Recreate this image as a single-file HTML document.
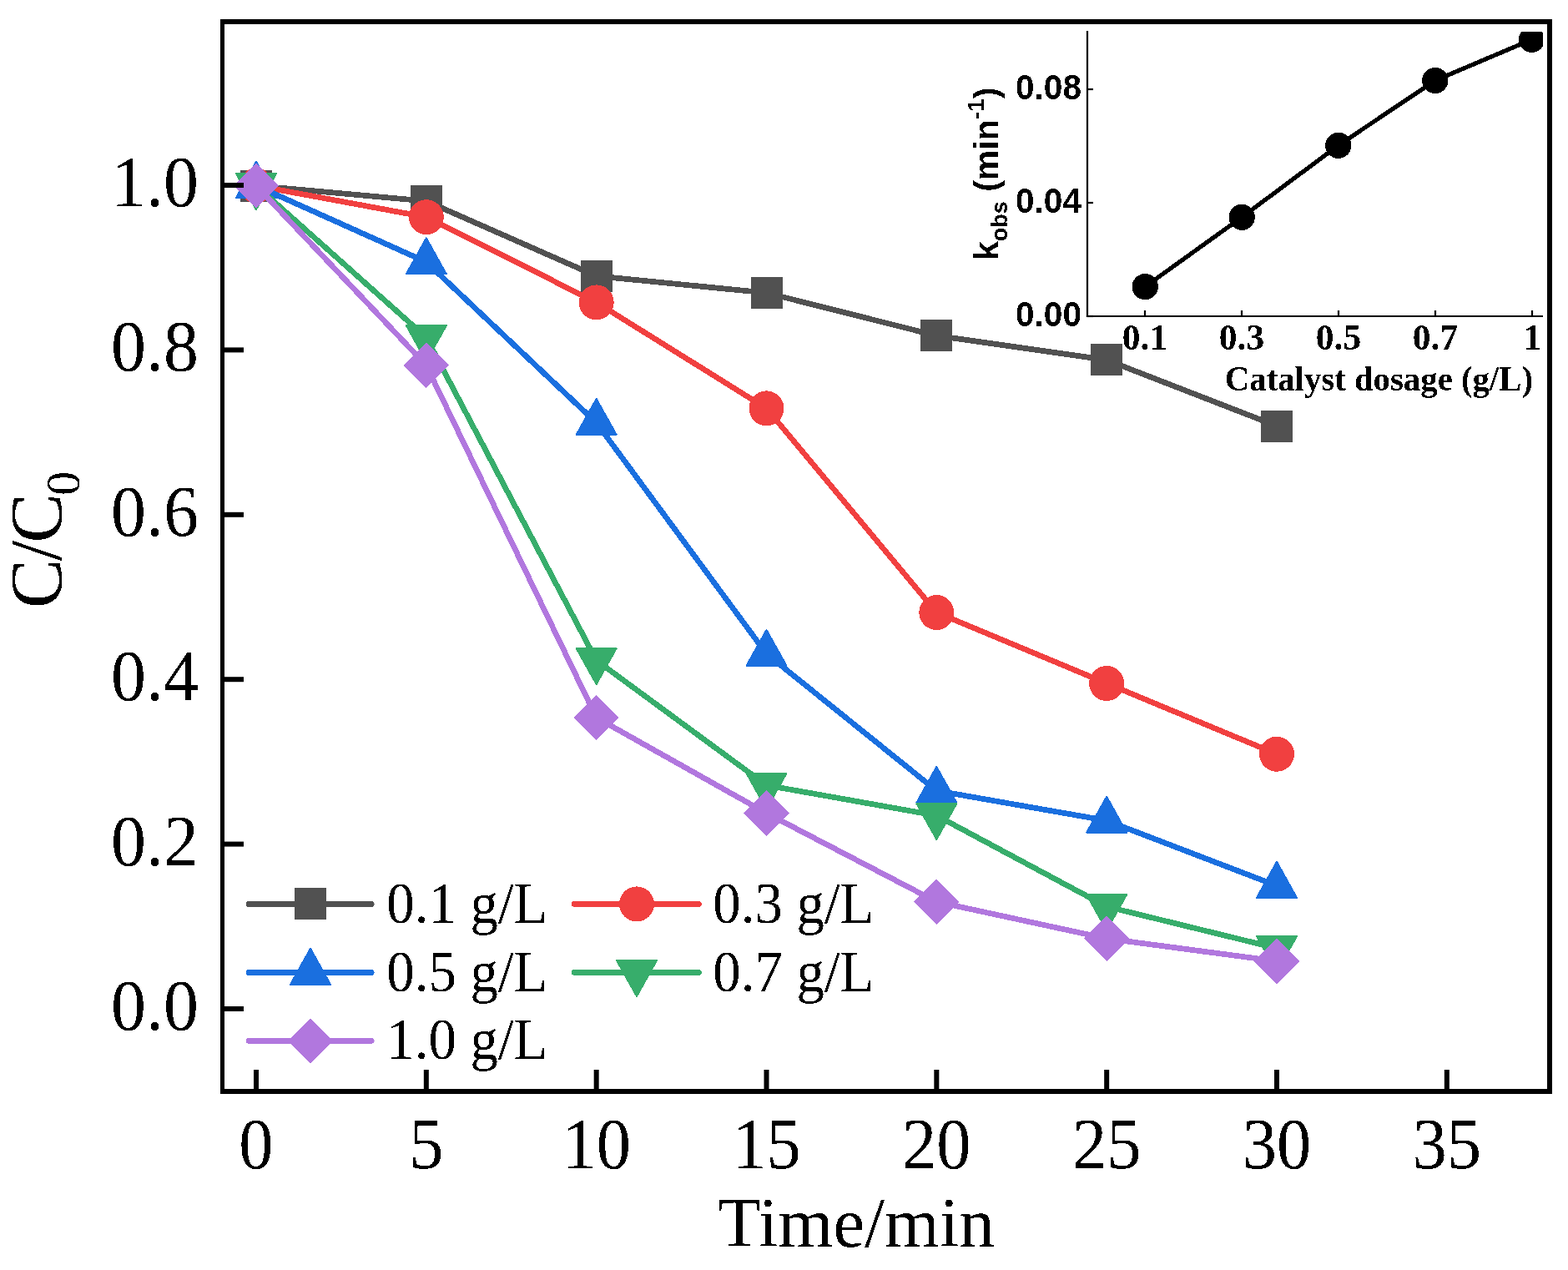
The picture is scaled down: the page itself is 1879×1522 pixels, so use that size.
<!DOCTYPE html>
<html><head><meta charset="utf-8"><title>C/C0 vs Time</title>
<style>html,body{margin:0;padding:0;background:#fff;overflow:hidden}svg{display:block}</style>
</head><body>
<svg width="1879" height="1522" viewBox="0 0 1879 1522">
<rect x="0" y="0" width="1879" height="1522" fill="#ffffff"/>
<defs><filter id="bin" x="-5%" y="-5%" width="110%" height="110%" color-interpolation-filters="sRGB"><feComponentTransfer><feFuncA type="discrete" tableValues="0 1"/></feComponentTransfer></filter></defs>
<g shape-rendering="crispEdges">
<polyline points="307.00,222.50 510.83,241.00 714.67,330.80 918.50,351.00 1122.33,402.30 1326.17,431.40 1530.00,510.50" fill="none" stroke="#515151" stroke-width="6.7" stroke-linejoin="round" stroke-linecap="round"/>
<rect x="288.00" y="203.50" width="38.0" height="38.0" fill="#515151"/>
<rect x="491.83" y="222.00" width="38.0" height="38.0" fill="#515151"/>
<rect x="695.67" y="311.80" width="38.0" height="38.0" fill="#515151"/>
<rect x="899.50" y="332.00" width="38.0" height="38.0" fill="#515151"/>
<rect x="1103.33" y="383.30" width="38.0" height="38.0" fill="#515151"/>
<rect x="1307.17" y="412.40" width="38.0" height="38.0" fill="#515151"/>
<rect x="1511.00" y="491.50" width="38.0" height="38.0" fill="#515151"/>
<polyline points="307.00,222.50 510.83,260.20 714.67,362.40 918.50,489.40 1122.33,734.00 1326.17,819.00 1530.00,903.70" fill="none" stroke="#F14040" stroke-width="6.7" stroke-linejoin="round" stroke-linecap="round"/>
<circle cx="307.00" cy="222.50" r="21.0" fill="#F14040"/>
<circle cx="510.83" cy="260.20" r="21.0" fill="#F14040"/>
<circle cx="714.67" cy="362.40" r="21.0" fill="#F14040"/>
<circle cx="918.50" cy="489.40" r="21.0" fill="#F14040"/>
<circle cx="1122.33" cy="734.00" r="21.0" fill="#F14040"/>
<circle cx="1326.17" cy="819.00" r="21.0" fill="#F14040"/>
<circle cx="1530.00" cy="903.70" r="21.0" fill="#F14040"/>
<polyline points="307.00,222.50 510.83,314.00 714.67,506.60 918.50,783.50 1122.33,947.60 1326.17,983.40 1530.00,1061.50" fill="none" stroke="#1A6FDF" stroke-width="6.7" stroke-linejoin="round" stroke-linecap="round"/>
<polygon points="307.00,193.83 283.00,236.83 331.00,236.83" fill="#1A6FDF" stroke="#1A6FDF" stroke-width="2" stroke-linejoin="round"/>
<polygon points="510.83,285.33 486.83,328.33 534.83,328.33" fill="#1A6FDF" stroke="#1A6FDF" stroke-width="2" stroke-linejoin="round"/>
<polygon points="714.67,477.93 690.67,520.93 738.67,520.93" fill="#1A6FDF" stroke="#1A6FDF" stroke-width="2" stroke-linejoin="round"/>
<polygon points="918.50,754.83 894.50,797.83 942.50,797.83" fill="#1A6FDF" stroke="#1A6FDF" stroke-width="2" stroke-linejoin="round"/>
<polygon points="1122.33,918.93 1098.33,961.93 1146.33,961.93" fill="#1A6FDF" stroke="#1A6FDF" stroke-width="2" stroke-linejoin="round"/>
<polygon points="1326.17,954.73 1302.17,997.73 1350.17,997.73" fill="#1A6FDF" stroke="#1A6FDF" stroke-width="2" stroke-linejoin="round"/>
<polygon points="1530.00,1032.83 1506.00,1075.83 1554.00,1075.83" fill="#1A6FDF" stroke="#1A6FDF" stroke-width="2" stroke-linejoin="round"/>
<polyline points="307.00,222.50 510.83,404.50 714.67,791.40 918.50,941.10 1122.33,977.40 1326.17,1086.50 1530.00,1136.40" fill="none" stroke="#37AD6B" stroke-width="6.7" stroke-linejoin="round" stroke-linecap="round"/>
<polygon points="307.00,251.17 283.00,208.17 331.00,208.17" fill="#37AD6B" stroke="#37AD6B" stroke-width="2" stroke-linejoin="round"/>
<polygon points="510.83,433.17 486.83,390.17 534.83,390.17" fill="#37AD6B" stroke="#37AD6B" stroke-width="2" stroke-linejoin="round"/>
<polygon points="714.67,820.07 690.67,777.07 738.67,777.07" fill="#37AD6B" stroke="#37AD6B" stroke-width="2" stroke-linejoin="round"/>
<polygon points="918.50,969.77 894.50,926.77 942.50,926.77" fill="#37AD6B" stroke="#37AD6B" stroke-width="2" stroke-linejoin="round"/>
<polygon points="1122.33,1006.07 1098.33,963.07 1146.33,963.07" fill="#37AD6B" stroke="#37AD6B" stroke-width="2" stroke-linejoin="round"/>
<polygon points="1326.17,1115.17 1302.17,1072.17 1350.17,1072.17" fill="#37AD6B" stroke="#37AD6B" stroke-width="2" stroke-linejoin="round"/>
<polygon points="1530.00,1165.07 1506.00,1122.07 1554.00,1122.07" fill="#37AD6B" stroke="#37AD6B" stroke-width="2" stroke-linejoin="round"/>
<polyline points="307.00,222.50 510.83,437.90 714.67,860.00 918.50,974.50 1122.33,1080.70 1326.17,1124.80 1530.00,1151.90" fill="none" stroke="#B177DE" stroke-width="6.7" stroke-linejoin="round" stroke-linecap="round"/>
<polygon points="307.00,196.10 333.40,222.50 307.00,248.90 280.60,222.50" fill="#B177DE" stroke="#B177DE" stroke-width="1.2" stroke-linejoin="round"/>
<polygon points="510.83,411.50 537.23,437.90 510.83,464.30 484.43,437.90" fill="#B177DE" stroke="#B177DE" stroke-width="1.2" stroke-linejoin="round"/>
<polygon points="714.67,833.60 741.07,860.00 714.67,886.40 688.27,860.00" fill="#B177DE" stroke="#B177DE" stroke-width="1.2" stroke-linejoin="round"/>
<polygon points="918.50,948.10 944.90,974.50 918.50,1000.90 892.10,974.50" fill="#B177DE" stroke="#B177DE" stroke-width="1.2" stroke-linejoin="round"/>
<polygon points="1122.33,1054.30 1148.73,1080.70 1122.33,1107.10 1095.93,1080.70" fill="#B177DE" stroke="#B177DE" stroke-width="1.2" stroke-linejoin="round"/>
<polygon points="1326.17,1098.40 1352.57,1124.80 1326.17,1151.20 1299.77,1124.80" fill="#B177DE" stroke="#B177DE" stroke-width="1.2" stroke-linejoin="round"/>
<polygon points="1530.00,1125.50 1556.40,1151.90 1530.00,1178.30 1503.60,1151.90" fill="#B177DE" stroke="#B177DE" stroke-width="1.2" stroke-linejoin="round"/>
</g>
<rect x="264" y="23" width="5" height="1288" fill="#000"/>
<rect x="264" y="23" width="1596" height="6" fill="#000"/>
<rect x="1854" y="23" width="6" height="1288" fill="#000"/>
<rect x="264" y="1305" width="1596" height="6" fill="#000"/>
<line x1="268" y1="1209.00" x2="292" y2="1209.00" stroke="#000" stroke-width="6"/>
<line x1="268" y1="1011.60" x2="292" y2="1011.60" stroke="#000" stroke-width="6"/>
<line x1="268" y1="814.20" x2="292" y2="814.20" stroke="#000" stroke-width="6"/>
<line x1="268" y1="616.80" x2="292" y2="616.80" stroke="#000" stroke-width="6"/>
<line x1="268" y1="419.40" x2="292" y2="419.40" stroke="#000" stroke-width="6"/>
<line x1="268" y1="222.00" x2="292" y2="222.00" stroke="#000" stroke-width="6"/>
<line x1="307.00" y1="1282" x2="307.00" y2="1306" stroke="#000" stroke-width="6"/>
<line x1="510.83" y1="1282" x2="510.83" y2="1306" stroke="#000" stroke-width="6"/>
<line x1="714.67" y1="1282" x2="714.67" y2="1306" stroke="#000" stroke-width="6"/>
<line x1="918.50" y1="1282" x2="918.50" y2="1306" stroke="#000" stroke-width="6"/>
<line x1="1122.33" y1="1282" x2="1122.33" y2="1306" stroke="#000" stroke-width="6"/>
<line x1="1326.17" y1="1282" x2="1326.17" y2="1306" stroke="#000" stroke-width="6"/>
<line x1="1530.00" y1="1282" x2="1530.00" y2="1306" stroke="#000" stroke-width="6"/>
<line x1="1733.83" y1="1282" x2="1733.83" y2="1306" stroke="#000" stroke-width="6"/>
<text transform="translate(238.00,1234.00) scale(0.97,1.0)" x="0" y="0" font-family="'Liberation Serif','Times New Roman',serif" font-size="86.5" text-anchor="end" filter="url(#bin)">0.0</text>
<text transform="translate(238.00,1036.60) scale(0.97,1.0)" x="0" y="0" font-family="'Liberation Serif','Times New Roman',serif" font-size="86.5" text-anchor="end" filter="url(#bin)">0.2</text>
<text transform="translate(238.00,839.20) scale(0.97,1.0)" x="0" y="0" font-family="'Liberation Serif','Times New Roman',serif" font-size="86.5" text-anchor="end" filter="url(#bin)">0.4</text>
<text transform="translate(238.00,641.80) scale(0.97,1.0)" x="0" y="0" font-family="'Liberation Serif','Times New Roman',serif" font-size="86.5" text-anchor="end" filter="url(#bin)">0.6</text>
<text transform="translate(238.00,444.40) scale(0.97,1.0)" x="0" y="0" font-family="'Liberation Serif','Times New Roman',serif" font-size="86.5" text-anchor="end" filter="url(#bin)">0.8</text>
<text transform="translate(238.00,247.00) scale(0.97,1.0)" x="0" y="0" font-family="'Liberation Serif','Times New Roman',serif" font-size="86.5" text-anchor="end" filter="url(#bin)">1.0</text>
<text transform="translate(307.00,1400.00) scale(0.96,1.0)" x="0" y="0" font-family="'Liberation Serif','Times New Roman',serif" font-size="86" text-anchor="middle" filter="url(#bin)">0</text>
<text transform="translate(510.83,1400.00) scale(0.96,1.0)" x="0" y="0" font-family="'Liberation Serif','Times New Roman',serif" font-size="86" text-anchor="middle" filter="url(#bin)">5</text>
<text transform="translate(714.67,1400.00) scale(0.96,1.0)" x="0" y="0" font-family="'Liberation Serif','Times New Roman',serif" font-size="86" text-anchor="middle" filter="url(#bin)">10</text>
<text transform="translate(918.50,1400.00) scale(0.96,1.0)" x="0" y="0" font-family="'Liberation Serif','Times New Roman',serif" font-size="86" text-anchor="middle" filter="url(#bin)">15</text>
<text transform="translate(1122.33,1400.00) scale(0.96,1.0)" x="0" y="0" font-family="'Liberation Serif','Times New Roman',serif" font-size="86" text-anchor="middle" filter="url(#bin)">20</text>
<text transform="translate(1326.17,1400.00) scale(0.96,1.0)" x="0" y="0" font-family="'Liberation Serif','Times New Roman',serif" font-size="86" text-anchor="middle" filter="url(#bin)">25</text>
<text transform="translate(1530.00,1400.00) scale(0.96,1.0)" x="0" y="0" font-family="'Liberation Serif','Times New Roman',serif" font-size="86" text-anchor="middle" filter="url(#bin)">30</text>
<text transform="translate(1733.83,1400.00) scale(0.96,1.0)" x="0" y="0" font-family="'Liberation Serif','Times New Roman',serif" font-size="86" text-anchor="middle" filter="url(#bin)">35</text>
<text transform="translate(1026.00,1494.00) scale(1.005,1.0)" x="0" y="0" font-family="'Liberation Serif','Times New Roman',serif" font-size="84.5" text-anchor="middle" filter="url(#bin)">Time/min</text>
<text transform="translate(73,729) rotate(-90)" x="0" y="0" filter="url(#bin)" font-family="'Liberation Serif','Times New Roman',serif" font-size="88.5" letter-spacing="-2.5">C/C<tspan font-size="57.5" dy="22" dx="0">0</tspan></text>
<g shape-rendering="crispEdges">
<line x1="297.85" y1="1083.4" x2="445.25" y2="1083.4" stroke="#515151" stroke-width="6.7" stroke-linecap="round"/>
<rect x="353.00" y="1064.40" width="38.0" height="38.0" fill="#515151"/>
</g>
<text transform="translate(463.30,1106.40) scale(0.955,1.0)" x="0" y="0" font-family="'Liberation Serif','Times New Roman',serif" font-size="70" text-anchor="start" filter="url(#bin)">0.1 g/L</text>
<g shape-rendering="crispEdges">
<line x1="688.25" y1="1083.4" x2="837.35" y2="1083.4" stroke="#F14040" stroke-width="6.7" stroke-linecap="round"/>
<circle cx="763.00" cy="1083.40" r="21.0" fill="#F14040"/>
</g>
<text transform="translate(854.30,1106.40) scale(0.955,1.0)" x="0" y="0" font-family="'Liberation Serif','Times New Roman',serif" font-size="70" text-anchor="start" filter="url(#bin)">0.3 g/L</text>
<g shape-rendering="crispEdges">
<line x1="297.85" y1="1165.4" x2="445.25" y2="1165.4" stroke="#1A6FDF" stroke-width="6.7" stroke-linecap="round"/>
<polygon points="372.00,1136.73 348.00,1179.73 396.00,1179.73" fill="#1A6FDF" stroke="#1A6FDF" stroke-width="2" stroke-linejoin="round"/>
</g>
<text transform="translate(463.30,1188.00) scale(0.955,1.0)" x="0" y="0" font-family="'Liberation Serif','Times New Roman',serif" font-size="70" text-anchor="start" filter="url(#bin)">0.5 g/L</text>
<g shape-rendering="crispEdges">
<line x1="688.25" y1="1165.4" x2="837.35" y2="1165.4" stroke="#37AD6B" stroke-width="6.7" stroke-linecap="round"/>
<polygon points="763.00,1194.07 739.00,1151.07 787.00,1151.07" fill="#37AD6B" stroke="#37AD6B" stroke-width="2" stroke-linejoin="round"/>
</g>
<text transform="translate(854.30,1188.00) scale(0.955,1.0)" x="0" y="0" font-family="'Liberation Serif','Times New Roman',serif" font-size="70" text-anchor="start" filter="url(#bin)">0.7 g/L</text>
<g shape-rendering="crispEdges">
<line x1="297.85" y1="1247.3" x2="445.25" y2="1247.3" stroke="#B177DE" stroke-width="6.7" stroke-linecap="round"/>
<polygon points="372.00,1220.90 398.40,1247.30 372.00,1273.70 345.60,1247.30" fill="#B177DE" stroke="#B177DE" stroke-width="1.2" stroke-linejoin="round"/>
</g>
<text transform="translate(463.30,1269.30) scale(0.955,1.0)" x="0" y="0" font-family="'Liberation Serif','Times New Roman',serif" font-size="70" text-anchor="start" filter="url(#bin)">1.0 g/L</text>
<defs><clipPath id="ic"><rect x="1303" y="38" width="546" height="341"/></clipPath></defs>
<g clip-path="url(#ic)" shape-rendering="crispEdges">
<polyline points="1372.2,343.6 1488.2,260.3 1603.8,174.3 1719.8,96.5 1835.6,47.4" fill="none" stroke="#000" stroke-width="5.2" stroke-linejoin="round"/>
<circle cx="1372.2" cy="343.6" r="15.6" fill="#000"/>
<circle cx="1488.2" cy="260.3" r="15.6" fill="#000"/>
<circle cx="1603.8" cy="174.3" r="15.6" fill="#000"/>
<circle cx="1719.8" cy="96.5" r="15.6" fill="#000"/>
<circle cx="1835.6" cy="47.4" r="15.6" fill="#000"/>
</g>
<line x1="1303" y1="37" x2="1303" y2="380.1" stroke="#000" stroke-width="2.2"/>
<line x1="1301.9" y1="379" x2="1849" y2="379" stroke="#000" stroke-width="2.2"/>
<line x1="1303" y1="379" x2="1310" y2="379" stroke="#000" stroke-width="2.2"/>
<line x1="1303" y1="243" x2="1310" y2="243" stroke="#000" stroke-width="2.2"/>
<line x1="1303" y1="107" x2="1310" y2="107" stroke="#000" stroke-width="2.2"/>
<line x1="1372" y1="372" x2="1372" y2="379" stroke="#000" stroke-width="2.2"/>
<line x1="1488" y1="372" x2="1488" y2="379" stroke="#000" stroke-width="2.2"/>
<line x1="1604" y1="372" x2="1604" y2="379" stroke="#000" stroke-width="2.2"/>
<line x1="1720" y1="372" x2="1720" y2="379" stroke="#000" stroke-width="2.2"/>
<line x1="1836" y1="372" x2="1836" y2="379" stroke="#000" stroke-width="2.2"/>
<text transform="translate(1296.00,391.20) scale(0.99,1.04)" x="0" y="0" font-family="'Liberation Sans',Arial,sans-serif" font-size="41" font-weight="bold" text-anchor="end" filter="url(#bin)">0.00</text>
<text transform="translate(1296.00,255.20) scale(0.99,1.04)" x="0" y="0" font-family="'Liberation Sans',Arial,sans-serif" font-size="41" font-weight="bold" text-anchor="end" filter="url(#bin)">0.04</text>
<text transform="translate(1296.00,119.20) scale(0.99,1.04)" x="0" y="0" font-family="'Liberation Sans',Arial,sans-serif" font-size="41" font-weight="bold" text-anchor="end" filter="url(#bin)">0.08</text>
<text transform="translate(1372.00,419.00)" x="0" y="0" font-family="'Liberation Serif','Times New Roman',serif" font-size="43.5" font-weight="bold" text-anchor="middle" filter="url(#bin)">0.1</text>
<text transform="translate(1488.00,419.00)" x="0" y="0" font-family="'Liberation Serif','Times New Roman',serif" font-size="43.5" font-weight="bold" text-anchor="middle" filter="url(#bin)">0.3</text>
<text transform="translate(1604.00,419.00)" x="0" y="0" font-family="'Liberation Serif','Times New Roman',serif" font-size="43.5" font-weight="bold" text-anchor="middle" filter="url(#bin)">0.5</text>
<text transform="translate(1720.00,419.00)" x="0" y="0" font-family="'Liberation Serif','Times New Roman',serif" font-size="43.5" font-weight="bold" text-anchor="middle" filter="url(#bin)">0.7</text>
<text transform="translate(1836.00,419.00)" x="0" y="0" font-family="'Liberation Serif','Times New Roman',serif" font-size="43.5" font-weight="bold" text-anchor="middle" filter="url(#bin)">1</text>
<text transform="translate(1652.40,467.50) scale(0.971,1.0)" x="0" y="0" font-family="'Liberation Serif','Times New Roman',serif" font-size="42" font-weight="bold" text-anchor="middle" filter="url(#bin)">Catalyst dosage (g/L)</text>
<text transform="translate(1196,312) rotate(-90)" x="0" y="0" filter="url(#bin)" font-family="'Liberation Sans',Arial,sans-serif" font-weight="bold" font-size="41">k<tspan font-size="27" dy="11">obs</tspan><tspan dy="-11"> (min</tspan><tspan font-size="28" dy="-17">-1</tspan><tspan dy="17">)</tspan></text>
</svg>
</body></html>
